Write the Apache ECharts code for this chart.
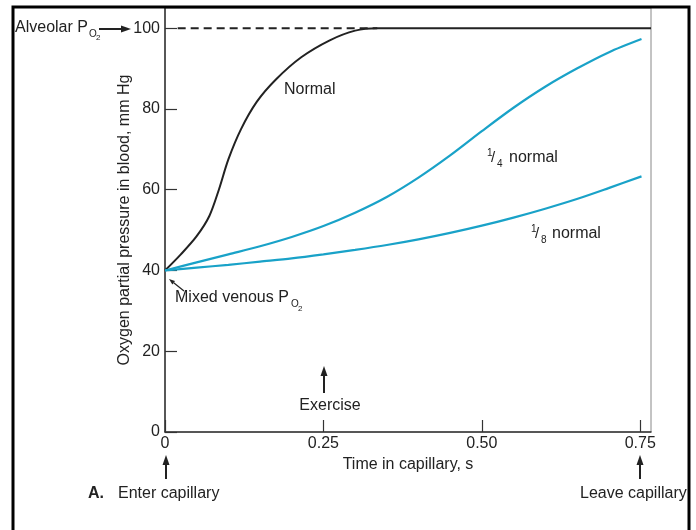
<!DOCTYPE html>
<html>
<head>
<meta charset="utf-8" />
<script src="https://cdn.jsdelivr.net/npm/echarts@6/dist/echarts.min.js"></script>
<style>
  html, body { margin: 0; padding: 0; background: #fff; }
  #main { width: 696px; height: 530px; }
</style>
</head>
<body>
<div id="main"></div>
<script type="text/javascript">
// 数据：时间 (s) 与 PO2 (mm Hg)
var normalCurve = [[0, 40], [0.025, 44], [0.05, 48.5], [0.07, 53.5], [0.085, 60], [0.1, 67.5],
  [0.12, 75], [0.145, 81.8], [0.175, 87.3], [0.215, 92.8], [0.26, 97], [0.3, 99.4],
  [0.335, 100], [0.767, 100]];
var quarterCurve = [[0, 40], [0.05, 42], [0.1, 44], [0.15, 46], [0.2, 48.3], [0.25, 51],
  [0.3, 54.3], [0.35, 58.2], [0.4, 63], [0.45, 68.5], [0.5, 74.5], [0.55, 80.3],
  [0.6, 85.5], [0.65, 90], [0.7, 94], [0.752, 97.3]];
var eighthCurve = [[0, 40], [0.05, 40.7], [0.1, 41.4], [0.15, 42.2], [0.2, 43], [0.25, 44],
  [0.3, 45.1], [0.35, 46.3], [0.4, 47.7], [0.45, 49.3], [0.5, 51.1], [0.55, 53.1],
  [0.6, 55.3], [0.65, 57.7], [0.7, 60.4], [0.752, 63.3]];
var alveolarDashed = [[0.02, 100], [0.335, 100]];
var xTicks = [0, 0.25, 0.5, 0.75];
var yTicks = [0, 20, 40, 60, 80, 100];

var FONT = '"Liberation Sans", Arial, sans-serif';
var INK = '#222';
var BLUE = '#19a2c8';

function txt(text, x, y, size, opts) {
  opts = opts || {};
  return {
    type: 'text', z: 100,
    style: {
      text: text, x: x, y: y,
      font: (opts.bold ? 'bold ' : '') + size + 'px ' + FONT,
      fill: INK,
      align: opts.align || 'left', textAlign: opts.align || 'left',
      verticalAlign: 'middle', textVerticalAlign: 'middle'
    }
  };
}

// 箭头：从 (x1,y1) 指向 (x2,y2)
function arrow(x1, y1, x2, y2, head, w) {
  var dx = x2 - x1, dy = y2 - y1, len = Math.sqrt(dx * dx + dy * dy);
  var ux = dx / len, uy = dy / len;
  var bx = x2 - ux * head, by = y2 - uy * head;
  var hw = head * 0.35;
  return [
    { type: 'line', z: 100, shape: { x1: x1, y1: y1, x2: bx, y2: by },
      style: { stroke: INK, lineWidth: w || 2 } },
    { type: 'polygon', z: 100,
      shape: { points: [[x2, y2], [bx - uy * hw, by + ux * hw], [bx + uy * hw, by - ux * hw]] },
      style: { fill: INK } }
  ];
}

var graphics = [
  { type: 'rect', z: 100, shape: { x: 13, y: 7, width: 676, height: 540 },
    style: { fill: 'none', stroke: '#000', lineWidth: 3 } },
  txt('Alveolar P', 15, 28, 16),
  txt('O', 89, 34, 10),
  txt('2', 96, 38, 8),
  txt('Normal', 284, 90, 16),
  txt('1', 487, 153, 10),
  txt('/', 491, 158, 15),
  txt('4', 497, 164, 10),
  txt('normal', 509, 158, 16),
  txt('1', 531, 229, 10),
  txt('/', 535, 234, 15),
  txt('8', 541, 240, 10),
  txt('normal', 552, 234, 16),
  txt('Mixed venous P', 175, 298, 16),
  txt('O', 291, 304, 10),
  txt('2', 298, 309, 8),
  txt('Exercise', 330, 406, 16, { align: 'center' }),
  txt('A.', 88, 494, 16, { bold: true }),
  txt('Enter capillary', 118, 494, 16),
  txt('Leave capillary', 580, 494, 16)
].concat(
  arrow(99, 29, 131, 29, 10, 2),
  arrow(184, 291, 169, 279, 6, 1.2),
  arrow(324, 393, 324, 366, 10, 2),
  arrow(166, 479, 166, 455, 10, 2),
  arrow(640, 479, 640, 455, 10, 2)
);

var chart = echarts.init(document.getElementById('main'));
chart.setOption({
  animation: false,
  backgroundColor: '#fff',
  textStyle: { fontFamily: FONT },
  grid: { left: 165, top: 8, right: 45, bottom: 98, show: true,
    borderColor: '#888', borderWidth: 1, backgroundColor: 'transparent' },
  xAxis: {
    type: 'value', min: 0, max: 0.767, interval: 0.25,
    name: 'Time in capillary, s', nameLocation: 'middle', nameGap: 25, nameMoveOverlap: false,
    nameTextStyle: { fontSize: 16, color: INK, fontFamily: FONT },
    axisLine: { lineStyle: { color: '#333', width: 1.5 } },
    axisTick: { inside: true, length: 12, lineStyle: { color: '#333', width: 1.2 } },
    axisLabel: { fontSize: 16, color: INK, margin: 4, showMaxLabel: false,
      formatter: function (v) { return xTicks.indexOf(v) < 0 ? '' : (v === 0 ? '0' : v.toFixed(2)); } },
    splitLine: { show: false }
  },
  yAxis: {
    type: 'value', min: 0, max: 105, interval: 20,
    name: 'Oxygen partial pressure in blood, mm Hg', nameLocation: 'middle', nameGap: 32,
    nameRotate: 90, nameMoveOverlap: false,
    nameTextStyle: { fontSize: 16, color: INK, fontFamily: FONT },
    axisLine: { lineStyle: { color: '#333', width: 1.5 } },
    axisTick: { inside: true, length: 12, lineStyle: { color: '#333', width: 1.2 } },
    axisLabel: { fontSize: 16, color: INK, margin: 5, showMaxLabel: false,
      formatter: function (v) { return yTicks.indexOf(v) < 0 ? '' : String(v); } },
    splitLine: { show: false }
  },
  series: [
    { type: 'line', data: alveolarDashed, showSymbol: false, silent: true,
      lineStyle: { color: INK, width: 2, type: [8, 5] } },
    { type: 'line', data: normalCurve, showSymbol: false, smooth: 0.3,
      lineStyle: { color: INK, width: 2 } },
    { type: 'line', data: quarterCurve, showSymbol: false, smooth: 0.3,
      lineStyle: { color: BLUE, width: 2.2 } },
    { type: 'line', data: eighthCurve, showSymbol: false, smooth: 0.3,
      lineStyle: { color: BLUE, width: 2.2 } }
  ],
  graphic: graphics
});
</script>
</body>
</html>
